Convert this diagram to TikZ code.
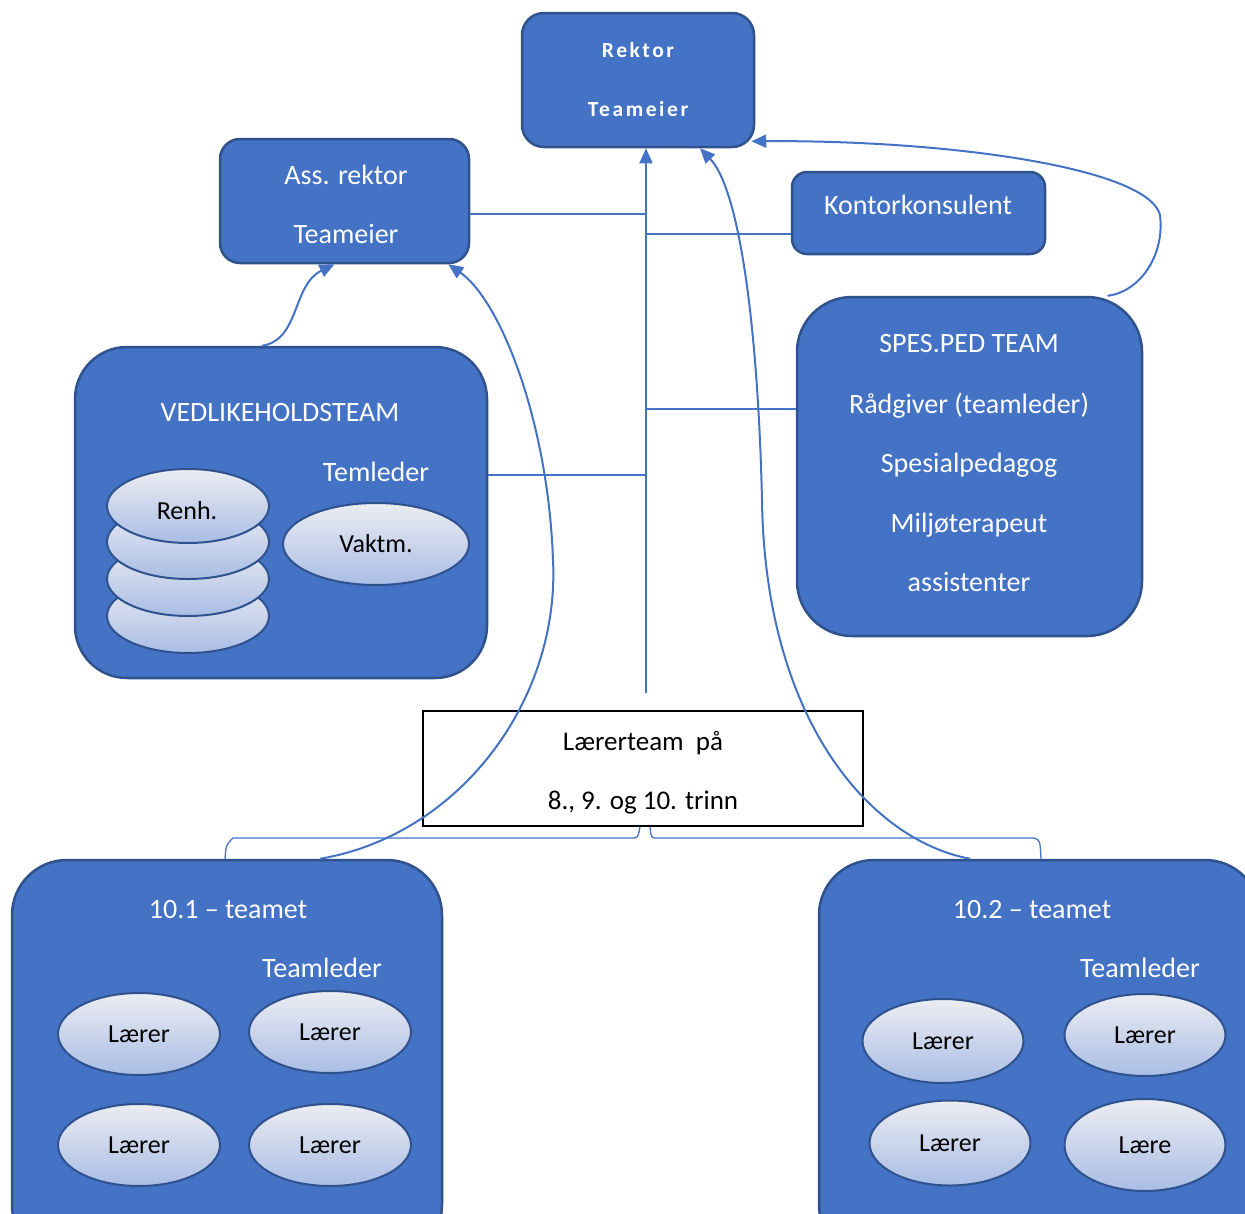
\documentclass[tikz,border=0pt]{standalone}
\usepackage{fontspec}
\setmainfont{Carlito}
\newfontfamily\spacedfont[LetterSpace=12]{Carlito}
\usetikzlibrary{shapes.geometric,arrows.meta}

\definecolor{teamblue}{HTML}{4472C4}
\definecolor{teamedge}{HTML}{2F528F}
\definecolor{linkblue}{HTML}{4472C4}
\definecolor{discTop}{HTML}{ECEDF2}
\definecolor{discBot}{HTML}{A9BDE5}

\begin{document}
\begin{tikzpicture}[x=1pt,y=-1pt,
  teambox/.style={draw=teamedge,line width=2.5pt,fill=teamblue,rounded corners=#1,inner sep=0pt},
  plainbox/.style={draw=black,line width=1.3pt,fill=white,inner sep=0pt},
  boxtxt/.style={text=white,anchor=base,inner sep=0pt,font=\fontsize{28}{32}\selectfont},
  darktxt/.style={text=black,anchor=base,inner sep=0pt,font=\fontsize{27}{32}\selectfont},
  headtxt/.style={text=white,anchor=base,inner sep=0pt,font=\spacedfont\bfseries\fontsize{21.5}{24}\selectfont},
  disc/.style={ellipse,draw=teamedge,line width=2pt,top color=discTop,bottom color=discBot,
    minimum width=#1,minimum height=82pt,inner sep=0pt,text=black,font=\fontsize{26}{30}\selectfont},
  disc/.default=162pt,
  discword/.style={text=black,inner sep=0pt,font=\fontsize{26}{30}\selectfont},
  link/.style={draw=linkblue,line width=2pt},
  thinlink/.style={draw=linkblue,line width=1.3pt},
  tip/.style={-{Triangle[length=15pt,width=13pt]}}
]
\useasboundingbox (0,0) rectangle (1245,1213);
\clip (0,0) rectangle (1245,1213);

% --- leadership ---
\node[teambox=22pt,minimum width=232pt,minimum height=134pt] (rektor) at (638,80) {};
\node[headtxt] (rektorA) at (638,57) {Rektor};
\node[headtxt] (rektorB) at (638,116) {Teameier};

\node[teambox=20pt,minimum width=249pt,minimum height=124pt] (ass) at (344.5,201) {};
\node[boxtxt] (assA) at (346,184) {Ass. rektor};
\node[boxtxt] (assB) at (346,243) {Teameier};

\node[teambox=15pt,minimum width=253pt,minimum height=82pt] (kontor) at (918.5,213) {};
\node[boxtxt] (kontorA) at (918,214) {Kontorkonsulent};

% --- special education team ---
\node[teambox=55pt,minimum width=345pt,minimum height=339pt] (spes) at (969.5,466.5) {};
\node[boxtxt] (spesA) at (969,352) {SPES.PED TEAM};
\node[boxtxt] (spesB) at (969,413) {Rådgiver (teamleder)};
\node[boxtxt] (spesC) at (969,472) {Spesialpedagog};
\node[boxtxt] (spesD) at (969,532) {Miljøterapeut};
\node[boxtxt] (spesE) at (969,591) {assistenter};

% --- maintenance team ---
\node[teambox=52pt,minimum width=412pt,minimum height=331pt] (vedl) at (281,512.5) {};
\node[boxtxt] (vedlA) at (280,421) {VEDLIKEHOLDSTEAM};
\node[boxtxt] (vedlB) at (376,481) {Temleder};
\node[disc=162pt,minimum height=74pt] (renh4) at (188,616) {};
\node[disc=162pt,minimum height=74pt] (renh3) at (188,579) {};
\node[disc=162pt,minimum height=74pt] (renh2) at (188,542) {};
\node[disc=162pt,minimum height=74pt] (renh1) at (188,506) {};
\node[discword] (renhtxt) at (187,511) {Renh.};
\node[disc=186pt] (vaktm) at (376,544) {Vaktm.};

% --- teacher teams ---
\node[plainbox,minimum width=440pt,minimum height=115pt] (larer) at (643,768.5) {};
\node[darktxt] (larerA) at (643,750) {Lærerteam\ \ på};
\node[darktxt] (larerB) at (643,809) {8., 9. og 10. trinn};

\node[teambox=55pt,minimum width=430pt,minimum height=400pt] (t101) at (227,1060) {};
\node[boxtxt] (t101A) at (228,918) {10.1 -- teamet};
\node[boxtxt] (t101B) at (322,977) {Teamleder};
\node[disc] (l11) at (139,1034) {Lærer};
\node[disc] (l12) at (330,1032) {Lærer};
\node[disc] (l13) at (139,1145) {Lærer};
\node[disc] (l14) at (330,1145) {Lærer};

\node[teambox=55pt,minimum width=441pt,minimum height=400pt] (t102) at (1039.5,1060) {};
\node[boxtxt] (t102A) at (1032,918) {10.2 -- teamet};
\node[boxtxt] (t102B) at (1140,977) {Teamleder};
\node[disc=161pt,minimum height=84pt] (l21) at (943,1041) {Lærer};
\node[disc=161pt] (l22) at (1145,1035) {Lærer};
\node[disc=161pt,minimum height=85pt] (l23) at (950,1143) {Lærer};
\node[disc=161pt,minimum height=92pt] (l24) at (1145,1145) {Lære};

% --- reporting lines ---
\coordinate (trunk) at (646,693);
\coordinate (j1) at (646,214);
\coordinate (j2) at (646,234);
\coordinate (j3) at (646,409);
\coordinate (j4) at (646,475);

\draw[link,tip] (trunk) -- (rektor.south -| trunk);
\draw[thinlink] (ass.east |- j1) -- (j1);
\draw[thinlink] (j2) -- (kontor.west |- j2);
\draw[thinlink] (j3) -- (spes.west |- j3);
\draw[thinlink] (vedl.east |- j4) -- (j4);

\draw[link,tip] ([xshift=138pt]spes.north) .. controls (1140,292) and (1165,255) .. (1160,215)
  .. controls (1148,168) and (950,140) .. ([shift={(-4pt,7pt)}]rektor.south east);
\draw[link,tip] ([xshift=-19pt]vedl.north) .. controls (300,340) and (292,285) .. ([xshift=-10pt]ass.south);
\draw[link,tip] ([xshift=93pt]t101.north) .. controls (460,835) and (560,700) .. (553,560)
  .. controls (548,420) and (500,300) .. ([xshift=-22pt]ass.south east);
\draw[link,tip] ([xshift=-69.5pt]t102.north) .. controls (870,840) and (765,720) .. (762,500)
  .. controls (758,330) and (740,190) .. ([xshift=62pt]rektor.south);

% brackets joining the teacher team box to both class teams
\draw[thinlink] ([xshift=-2pt]t101.north) .. controls (226,845) .. (233,838) -- (631,838)
  .. controls (638,838) .. ([xshift=-3pt]larer.south);
\draw[thinlink] ([xshift=7pt]larer.south) .. controls (651,838) .. (658,838) -- (1034,838)
  .. controls (1040,840) .. ([xshift=1.5pt]t102.north);
\end{tikzpicture}
\end{document}
